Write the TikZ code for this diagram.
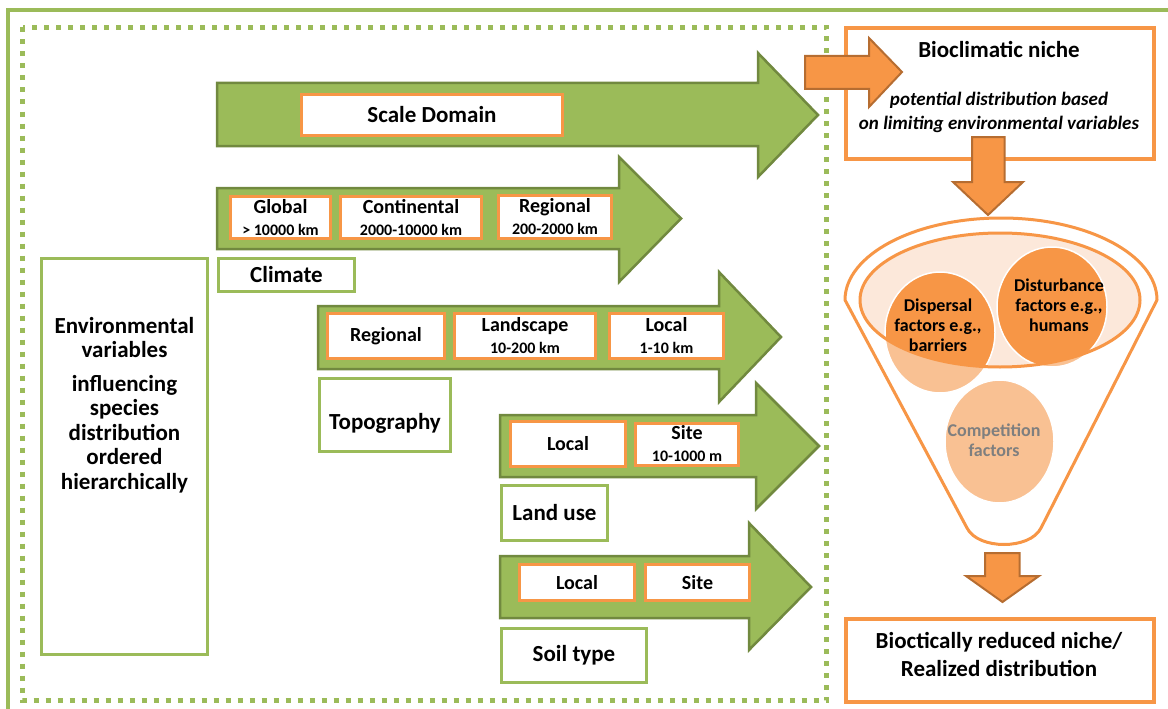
\documentclass[tikz,border=0pt]{standalone}
\usepackage{fontspec}
\setmainfont{Carlito}
\definecolor{grn}{HTML}{9BBB59}
\definecolor{dgrn}{HTML}{71893F}
\definecolor{org}{HTML}{F79646}
\definecolor{dorg}{HTML}{B66D31}
\definecolor{peach}{HTML}{F9C193}
\definecolor{pinkf}{HTML}{FCE8DA}
\definecolor{gry}{HTML}{7F7F7F}
\newcommand\fsz[2]{\fontsize{#1}{#2}\selectfont}
\newcommand\subl[1]{{\fsz{16}{22}#1}}
\begin{document}
\begin{tikzpicture}[x=1pt,y=-1pt,
  garrow/.style={fill=grn,draw=dgrn,line width=2.5pt,line join=miter},
  oarrow/.style={fill=org,draw=dorg,line width=2pt,line join=miter},
  obox/.style={draw=org,line width=3pt,fill=white,inner sep=0pt,align=center,font=\bfseries\fsz{20}{22}},
  gbox/.style={draw=grn,line width=3pt,fill=white,inner sep=0pt,align=center,font=\bfseries\fsz{23}{26}},
  txt/.style={inner sep=0pt,align=center,font=\bfseries\fsz{23}{26}},
  ftxt/.style={inner sep=0pt,align=center,font=\bfseries\fsz{18}{20}},
  blob/.style={draw=white,line width=1.5pt}
]
\useasboundingbox (0,0) rectangle (1168,709);
% frames
\draw[grn,line width=4pt] (8,10.5) rectangle (1200,740);
\draw[grn,line width=5pt,dash pattern=on 5pt off 7pt] (22.5,27.5) rectangle (826.5,700.5);
% green arrows
\draw[garrow] (217,83) -- (758,83) -- (758,53) -- (818,115) -- (758,177) -- (758,146) -- (217,146) -- cycle;
\draw[garrow] (217,188) -- (619,188) -- (619,157) -- (681,218.5) -- (619,282) -- (619,249) -- (217,249) -- cycle;
\draw[garrow] (318,306) -- (719,306) -- (719,272) -- (781,337) -- (719,402) -- (719,369) -- (318,369) -- cycle;
\draw[garrow] (500,415) -- (756,415) -- (756,383) -- (819,446) -- (756,509) -- (756,477) -- (500,477) -- cycle;
\draw[garrow] (500,556) -- (749,556) -- (749,523) -- (811,587) -- (749,650) -- (749,618) -- (500,618) -- cycle;
% boxes in arrows
\node[obox,font=\bfseries\fsz{23}{26},minimum width=261,minimum height=41] (scale) at (432,115) {Scale Domain};
\node[obox,minimum width=100,minimum height=42] (global) at (280.5,217.5) {Global\\\subl{> 10000 km}};
\node[obox,minimum width=141,minimum height=42] (conti) at (411,217.5) {Continental\\\subl{2000-10000 km}};
\node[obox,minimum width=113,minimum height=43] (regA) at (555,217) {Regional\\\subl{200-2000 km}};
\node[obox,minimum width=117,minimum height=45] (regB) at (386,336) {Regional};
\node[obox,minimum width=141,minimum height=45] (land) at (525,336) {Landscape\\\subl{10-200 km}};
\node[obox,minimum width=114,minimum height=45] (locA) at (666.5,336) {Local\\\subl{1-10 km}};
\node[obox,minimum width=115,minimum height=45] (locB) at (568,444) {Local};
\node[obox,minimum width=103,minimum height=42] (siteB) at (687,444) {Site\\\subl{10-1000 m}};
\node[obox,minimum width=115,minimum height=36] (locC) at (577,582.5) {Local};
\node[obox,minimum width=104,minimum height=36] (siteC) at (697.5,582.5) {Site};
% green label boxes
\node[gbox,minimum width=136,minimum height=33] (climate) at (286.5,275) {Climate};
\node[gbox,minimum width=131,minimum height=73] (topo) at (385,415) {};
\node[txt,anchor=base] (topot) at (385,429) {Topography};
\node[gbox,minimum width=106,minimum height=55] (landuse) at (554.5,513) {Land use};
\node[gbox,minimum width=145,minimum height=54] (soil) at (574,655.5) {Soil type};
\node[gbox,minimum width=166,minimum height=396] (env) at (124.5,456.5) {};
\node[txt,font=\bfseries\fsz{23}{24.5},anchor=north] (envt) at (124.5,317) {Environmental\\variables\\[9pt]influencing\\species\\distribution\\ordered\\hierarchically};
% right side
\node[obox,line width=4pt,minimum width=308,minimum height=131] (bio) at (1000,93.5) {};
\node[txt] (biot) at (999,49) {Bioclimatic niche};
\node[txt,font=\bfseries\itshape\fsz{19}{24}] (biod) at (999,112) {potential distribution based\\on limiting environmental variables};
\draw[oarrow] (805,56) -- (869,56) -- (869,38) -- (902,72) -- (869,107) -- (869,89) -- (805,89) -- cycle;
\draw[oarrow] (972,137) -- (1004.5,137) -- (1004.5,182) -- (1023,182) -- (988,215) -- (953,182) -- (972,182) -- cycle;
% funnel
\draw[org,line width=3pt,fill=white,line join=round] (845,300) arc[start angle=180,end angle=360,x radius=156,y radius=82] -- (1041,528) .. controls (1030,550) and (978,550) .. (967,528) -- cycle;
\fill[pinkf] (1000,300) ellipse [x radius=140,y radius=67];
\fill[peach] (940,332.5) ellipse [x radius=55,y radius=60.5];
\begin{scope}
\clip (1000,300) ellipse [x radius=140,y radius=67];
\fill[org] (940,332.5) ellipse [x radius=55,y radius=60.5];
\end{scope}
\draw[blob] (940,332.5) ellipse [x radius=55,y radius=60.5];
\fill[peach] (1052,307) ellipse [x radius=55,y radius=60];
\begin{scope}
\clip (1000,300) ellipse [x radius=140,y radius=67];
\fill[org] (1052,307) ellipse [x radius=55,y radius=60];
\end{scope}
\draw[blob] (1052,307) ellipse [x radius=55,y radius=60];
\draw[blob,fill=peach] (999.5,441.5) ellipse [x radius=54.5,y radius=61.5];
\draw[org,line width=3pt] (1000,300) ellipse [x radius=140,y radius=67];
\node[ftxt] (disp) at (938,325) {Dispersal\\factors e.g.,\\barriers};
\node[ftxt] (dist) at (1059,305) {Disturbance\\factors e.g.,\\humans};
\node[ftxt,text=gry] (comp) at (994,440) {Competition\\factors};
\draw[oarrow] (985,553) -- (1019.5,553) -- (1019.5,576) -- (1039,576) -- (1002.5,602) -- (966,576) -- (985,576) -- cycle;
\node[obox,line width=4pt,minimum width=308,minimum height=83] (real) at (1000,660.5) {};
\node[txt,font=\bfseries\fsz{23}{28}] (realt) at (999,654) {Bioctically reduced niche/\\Realized distribution};
\end{tikzpicture}
\end{document}
